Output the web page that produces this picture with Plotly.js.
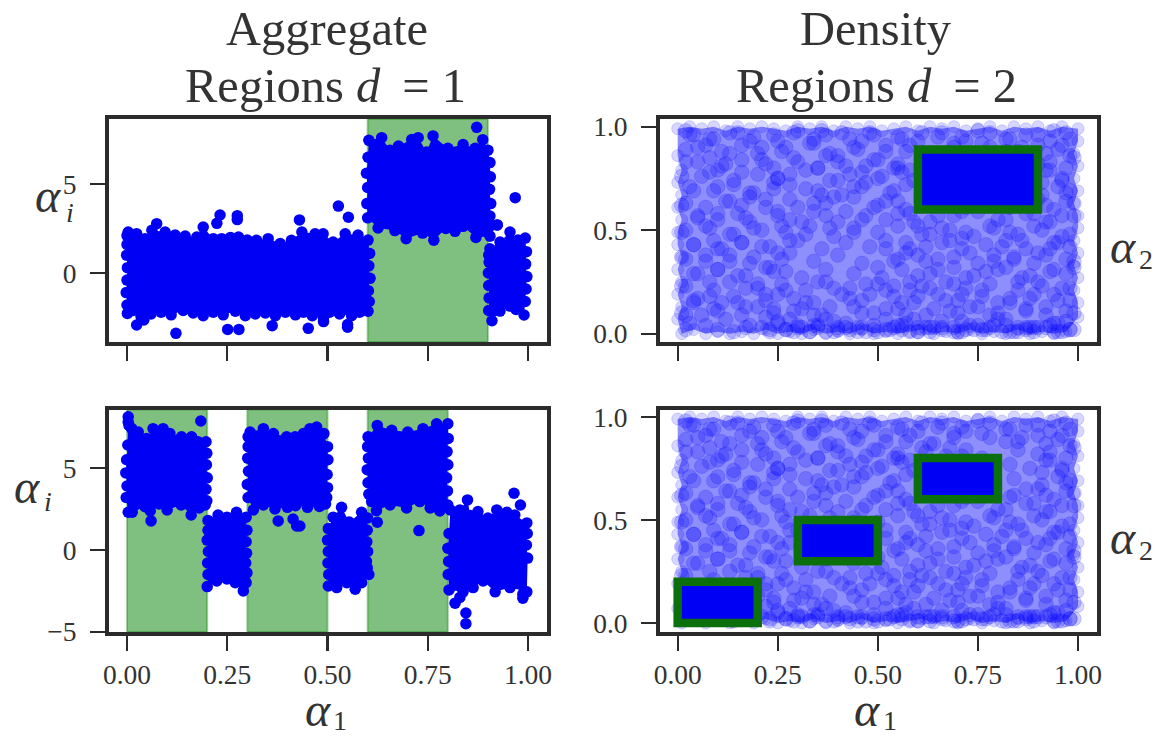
<!DOCTYPE html>
<html><head><meta charset="utf-8">
<script src="https://cdn.plot.ly/plotly-3.0.1.min.js"></script>
<style>html,body{margin:0;padding:0;background:#fff}</style></head>
<body><div id="chart" style="width:1175px;height:737px"></div>
<script>
const xTicks=[0,0.25,0.5,0.75,1], xTickText=['0.00','0.25','0.50','0.75','1.00'];
const dTicks=[0,0.5,1], dTickText=['0.0','0.5','1.0'];
const topRegions=[[0.6,0.9]];
const bottomRegions=[[0,0.2],[0.3,0.5],[0.6,0.8]];
const densTopRects=[[0.6,0.9,0.6,0.89]];
const densBottomRects=[[0,0.2,0,0.2],[0.3,0.5,0.3,0.5],[0.6,0.8,0.6,0.8]];

const topBlobX=[0,.003,.024,.045,.062,.095,.12,.145,.174,.19,.215,.236,.258,.278,.3,.323,.352,.382,.41,.436,.469,.489,.514,.544,.576,.601,.605,.603,.606,.602,.604,.601,.58,.56,.53,.505,.49,.462,.44,.42,.395,.37,.345,.32,.295,.27,.24,.215,.19,.165,.14,.11,.085,.06,.035,.015,0,-.002,0,.001,-.001,0,null,
.603,.635,.656,.677,.71,.726,.747,.763,.8,.838,.868,.887,.9,.905,.906,.904,.907,.905,.923,.905,.87,.838,.818,.795,.765,.737,.696,.668,.626,.6,.598,.6,.597,.601,null,
.905,.93,.955,.975,.993,.996,.994,.997,.995,.993,.99,.97,.955,.93,.91,.902,.903,.902,.901,.903,.902];
const topBlobY=[2.1,2.3,2.21,1.93,2.4,2.3,2.13,2.08,2.02,2.58,1.93,1.93,2.0,2.02,1.85,1.84,1.93,1.65,1.84,2.3,2.2,2.2,1.74,2.2,2.13,1.85,1.1,.4,-.3,-1,-1.6,-2.15,-2.2,-2.4,-2.3,-2.2,-2.5,-2.4,-2.2,-2.35,-2.2,-2.4,-2.25,-2.3,-2.4,-2.15,-2.35,-2.2,-2.4,-2.25,-2.1,-2.35,-2.2,-2.3,-2.45,-2.1,-1.8,-1.1,-.4,.3,1,1.6,null,
7.45,7.6,6.9,7.13,7.5,7.6,6.8,7.7,7,7.22,7,7.49,6.9,6.2,5.4,4.7,3.9,3.2,2.7,2.07,2,2.62,2.34,2.5,1.84,2.24,1.93,2.38,2.53,3.1,3.9,4.8,5.6,6.5,null,
1.36,1.74,2.3,1.85,1.96,1.2,.5,-.2,-.9,-1.6,-2.36,-2.05,-1.86,-2.14,-2.68,-2.1,-1.4,-.7,0,.6,1];
const topOutX=[.074,.232,.224,.275,.275,.43,.527,.552,.122,.251,.279,.362,.452,.55,.55,.49,.024,.042,.001,.872,.968,.923];
const topOutY=[2.77,3.26,2.79,3.22,3,2.98,3.76,3.13,-3.39,-3.17,-3.17,-2.96,-3.11,-3.05,-2.9,-2.73,-2.92,-2.64,-2.27,8.18,4.23,2.7];

const bottomBlobX=[.003,.012,.028,.049,.065,.09,.107,.136,.161,.177,.197,.199,.198,.2,.197,.199,.195,.18,.16,.135,.1,.08,.058,.045,.013,.003,-.002,0,-.003,-.001,.002,null,
.202,.227,.249,.273,.297,.299,.297,.298,.296,.299,.297,.29,.27,.249,.224,.2,.202,.201,.203,.2,.202,null,
.302,.307,.34,.365,.398,.419,.44,.456,.473,.491,.5,.501,.499,.5,.498,.495,.48,.45,.42,.4,.369,.34,.315,.302,.3,.303,.301,.302,null,
.514,.535,.554,.585,.6,.599,.598,.6,.597,.599,.603,.585,.569,.548,.523,.502,.503,.501,.502,.5,.502,null,
.601,.624,.66,.7,.738,.772,.8,.801,.798,.8,.797,.799,.8,.78,.756,.73,.697,.656,.622,.61,.603,.601,.599,.602,.6,null,
.806,.83,.849,.856,.875,.9,.922,.947,.967,.997,.998,.996,.999,.997,.955,.918,.888,.863,.838,.803,.801,.802,.8,.803];
const bottomBlobY=[7.8,7.4,7.2,6.8,7.4,7.4,7.1,6.9,6.9,6.6,6.6,5.9,5.2,4.4,3.7,3,2.74,2.56,2.13,2.74,2.44,2.8,2.38,2.64,2.3,2.3,3.2,3.9,4.7,5.5,6.4,null,
1.8,2.13,2,2.3,2,1.2,.5,-.2,-.8,-1.4,-2,-2.5,-2,-1.77,-1.9,-2.24,-1.5,-.8,-.1,.6,1.2,null,
6.9,7.2,7.4,7.1,6.9,6.9,7.1,7.4,7.5,7.1,6.3,5.5,4.6,3.8,3.2,2.8,2.65,2.6,2.7,2.6,2.5,2.74,2.44,3.2,4,4.8,5.6,6.3,null,
2,2.6,1.7,2.3,1.95,1.2,.5,-.1,-.7,-1.1,-1.5,-2,-2.4,-2,-2.3,-2.2,-1.5,-.8,-.1,.6,1.3,null,
6.9,7.6,7.3,7.2,7.4,7.7,7.7,6.8,6,5.2,4.4,3.6,2.74,2.38,2.56,2.95,2.56,2.74,2.4,2.95,3.4,4.1,4.9,5.6,6.3,null,
2.44,2.44,3.05,2.1,2.34,1.95,2.44,2.3,2.13,1.65,1,.3,-.5,-2.56,-2.3,-2.56,-1.9,-2.3,-2.56,-2.44,-1.5,-.7,.1,1];
const bottomOutX=[.003,.005,.184,.06,.377,.414,.423,.431,.624,.728,.965,.981,.987,.818,.83,.845,.845,.987];
const bottomOutY=[8.13,7.6,7.87,1.77,1.77,1.89,1.46,1.46,1.69,1.18,3.46,2.74,-2.95,-3.25,-2.9,-3.85,-4.5,-2.7];

const edgeX=[0,.03,.06,.09,.12,.15,.18,.21,.24,.27,.3,.33,.36,.39,.42,.45,.48,.51,.54,.57,.6,.63,.66,.69,.72,.75,.78,.81,.84,.87,.9,.93,.96,1,1,.99,1,.99,1,.99,1,1,.99,1,.99,1,.99,1,1,.97,.94,.91,.88,.85,.82,.79,.76,.73,.7,.67,.64,.61,.58,.55,.52,.49,.46,.43,.4,.37,.34,.31,.28,.25,.22,.19,.16,.13,.1,.07,.04,.01,0,.01,0,.01,0,.01,0,0,.01,0,.01,0,.01,0];
const edgeY=[.99,1,.99,1,.98,1,.99,1,.99,.98,1,.99,1,.98,1,.99,1,.98,.99,1,.98,1,.99,1,.98,.99,1,.98,1,.99,1,.98,1,.99,.93,.87,.81,.75,.69,.63,.57,.51,.45,.39,.33,.27,.21,.15,.08,.01,0,.01,0,.02,0,.01,0,.02,0,.01,0,.02,.01,0,.01,0,.02,0,.01,0,.02,0,.01,0,.02,0,.01,0,.01,0,.02,0,.07,.13,.19,.25,.31,.37,.43,.49,.55,.61,.67,.73,.79,.86];

const densTopX=[.03,.02,.08,.13,.19,.25,.29,.36,.37,.43,.48,.55,.6,.66,.71,.75,.82,.87,.93,.97,
.05,.11,.16,.2,.27,.34,.4,.45,.52,.57,.63,.69,.78,.85,.9,.95,
.02,.08,.12,.21,.24,.3,.37,.42,.49,.54,.55,.61,.67,.72,.76,.93,.98,
.06,.1,.16,.25,.28,.35,.4,.46,.51,.58,.64,.7,.92,.96,
.03,.09,.14,.19,.24,.32,.36,.44,.47,.54,.61,.66,.74,.91,.97,
.01,.12,.18,.22,.28,.34,.39,.49,.52,.57,.62,.69,.72,.78,.84,.9,.94,.99,
.05,.1,.15,.17,.25,.31,.37,.42,.46,.55,.59,.65,.71,.8,.87,.92,.96,
.02,.07,.13,.19,.27,.33,.39,.44,.5,.6,.63,.68,.74,.79,.83,.89,.98,
.04,.09,.1,.16,.21,.3,.36,.42,.48,.52,.58,.66,.71,.81,.86,.93,.95,
.01,.07,.13,.18,.26,.28,.34,.4,.46,.55,.57,.62,.69,.75,.79,.84,.9,.99,
.04,.1,.15,.22,.24,.31,.37,.44,.5,.6,.65,.72,.77,.82,.88,.94,.97,
.02,.08,.17,.2,.27,.35,.39,.47,.52,.54,.58,.63,.69,.76,.85,.91,.98,
.05,.11,.14,.22,.25,.32,.43,.48,.56,.6,.67,.71,.8,.83,.89,.95,
.01,.09,.16,.2,.29,.34,.38,.46,.52,.57,.64,.7,.75,.78,.87,.92,.99,
.04,.03,.12,.18,.25,.31,.37,.42,.49,.59,.6,.66,.73,.8,.85,.94,.97,
.02,.07,.14,.21,.27,.35,.39,.45,.52,.56,.63,.69,.76,.82,.89,.92,.98,
.06,.1,.17,.23,.3,.33,.4,.47,.54,.6,.66,.71,.78,.84,.87,.95];
const densTopY=[.96,.98,.94,.97,.95,.93,.97,.98,.96,.94,.97,.95,.93,.97,.95,.98,.94,.96,.93,.97,
.9,.88,.91,.87,.9,.92,.86,.89,.91,.88,.87,.92,.9,.88,.91,.89,
.83,.85,.82,.84,.8,.83,.86,.81,.84,.8,.82,.85,.81,.84,.8,.83,.86,
.76,.79,.78,.75,.77,.8,.74,.78,.76,.79,.74,.77,.79,.75,
.71,.69,.72,.68,.73,.7,.67,.71,.73,.69,.72,.68,.7,.73,.68,
.62,.64,.66,.61,.65,.63,.66,.61,.64,.6,.63,.66,.61,.64,.62,.65,.6,.63,
.57,.55,.58,.56,.59,.54,.57,.59,.55,.58,.54,.57,.59,.55,.58,.54,.57,
.5,.52,.48,.51,.49,.52,.47,.51,.49,.52,.48,.5,.47,.51,.49,.52,.48,
.43,.45,.41,.44,.42,.45,.41,.44,.42,.45,.41,.44,.46,.42,.45,.41,.44,
.37,.35,.38,.34,.36,.39,.35,.38,.34,.36,.39,.35,.37,.34,.38,.36,.39,.35,
.29,.31,.28,.32,.3,.27,.31,.29,.32,.28,.31,.27,.3,.32,.28,.31,.29,
.23,.25,.22,.24,.21,.25,.22,.24,.21,.23,.25,.22,.24,.21,.25,.23,.22,
.17,.15,.18,.16,.19,.15,.17,.19,.15,.18,.16,.19,.15,.17,.19,.16,
.1,.12,.09,.13,.11,.09,.13,.1,.12,.09,.12,.1,.13,.09,.11,.13,.1,
.15,.05,.07,.04,.06,.03,.07,.05,.04,.07,.03,.06,.04,.07,.03,.05,.06,
.02,.04,.01,.03,.02,.04,.01,.03,.02,.04,.01,.03,.02,.04,.01,.03,.02,
.09,.02,.03,.01,.03,.01,.02,.01,.03,.01,.02,.01,.03,.01,.02,.01];

const densBotX=[.04,.09,.15,.18,.24,.3,.34,.41,.46,.49,.56,.61,.65,.72,.78,.83,.9,.94,.98,
.02,.07,.13,.21,.26,.33,.38,.44,.52,.58,.64,.69,.76,.82,.86,.92,.96,
.05,.11,.16,.22,.29,.35,.4,.47,.5,.55,.62,.68,.71,.85,.9,.97,.99,
.01,.08,.14,.2,.25,.32,.38,.43,.5,.56,.59,.83,.88,.93,.96,
.04,.1,.18,.24,.28,.35,.41,.46,.53,.57,.84,.91,.95,.98,
.02,.07,.13,.16,.22,.3,.37,.44,.5,.55,.83,.87,.92,.97,
.05,.1,.18,.25,.28,.34,.4,.47,.52,.58,.63,.69,.75,.82,.89,.93,.99,
.01,.08,.14,.21,.26,.32,.38,.44,.55,.61,.66,.72,.78,.85,.91,.96,
.04,.11,.16,.23,.28,.52,.57,.62,.68,.71,.77,.82,.87,.94,.98,
.02,.07,.13,.19,.25,.54,.6,.65,.73,.79,.84,.89,.92,.97,
.05,.1,.17,.23,.27,.51,.56,.63,.69,.74,.8,.86,.93,.99,
.01,.09,.13,.2,.26,.32,.37,.43,.5,.58,.61,.67,.72,.78,.85,.9,.96,
.04,.08,.15,.22,.29,.34,.41,.46,.54,.59,.65,.7,.76,.83,.88,.94,.98,
.02,.1,.17,.24,.31,.36,.44,.49,.55,.62,.68,.73,.8,.87,.92,.97,
.25,.28,.34,.39,.46,.52,.57,.63,.71,.75,.82,.88,.95,
.23,.3,.37,.42,.49,.55,.6,.66,.72,.79,.85,.9,.93,.99,
.24,.27,.33,.4,.45,.53,.58,.64,.7,.77,.83,.87,.96,
.22,.29,.35,.43,.5,.56,.62,.69,.74,.81,.89,.94,.98];
const densBotY=[.96,.94,.97,.93,.96,.98,.94,.97,.93,.96,.94,.97,.95,.93,.97,.94,.96,.98,.94,
.89,.91,.87,.9,.88,.92,.87,.9,.88,.91,.87,.9,.92,.88,.9,.87,.91,
.83,.81,.84,.82,.85,.8,.83,.81,.84,.8,.83,.85,.81,.84,.82,.8,.85,
.76,.78,.74,.77,.75,.79,.74,.77,.75,.78,.74,.77,.75,.79,.74,
.69,.71,.68,.7,.72,.69,.67,.71,.68,.72,.7,.67,.71,.69,
.63,.61,.64,.62,.65,.61,.63,.66,.62,.64,.61,.65,.62,.64,
.56,.58,.54,.57,.55,.59,.54,.57,.55,.58,.54,.57,.59,.55,.58,.54,.57,
.49,.51,.48,.5,.52,.48,.51,.49,.52,.48,.51,.49,.52,.48,.5,.47,
.43,.41,.44,.42,.45,.41,.44,.42,.45,.41,.43,.45,.41,.44,.42,
.36,.38,.35,.37,.39,.35,.38,.36,.39,.35,.37,.34,.38,.36,
.29,.31,.28,.32,.3,.27,.31,.29,.32,.28,.31,.27,.3,.32,
.23,.21,.25,.22,.24,.21,.25,.22,.24,.21,.23,.25,.22,.24,.21,.25,.22,
.16,.18,.15,.19,.17,.15,.19,.16,.18,.15,.19,.16,.18,.15,.17,.19,.16,
.09,.11,.13,.1,.12,.09,.13,.1,.12,.09,.11,.13,.1,.12,.09,.11,
.05,.07,.04,.06,.03,.07,.05,.03,.06,.04,.07,.03,.05,
.02,.04,.01,.03,.02,.04,.01,.03,.02,.04,.01,.03,.04,.02,
.12,.02,.01,.03,.01,.02,.01,.03,.01,.02,.01,.03,.01,
.08,.01,.03,.02,.01,.02,.03,.01,.02,.01,.03,.01,.02];

const W=1175,H=737;
const BLUE='#0000f5', INK='#333333', FONT='"Liberation Serif", serif', FRAME='#2b2b2b';
const px=(a,b)=>[a/W,b/W], py=(a,b)=>[1-b/H,1-a/H];
const solid={color:BLUE,size:11.5,line:{width:0}};

function axis(anchor,domain,range,vals,text,labels,standoff){return {anchor:anchor,domain:domain,range:range,tickmode:'array',tickvals:vals,ticktext:text,showticklabels:labels,
 ticks:'outside',ticklen:15,tickwidth:2.2,tickcolor:FRAME,showline:true,mirror:true,linewidth:4,linecolor:FRAME,showgrid:false,zeroline:false,ticklabelstandoff:standoff||0,
 tickfont:{family:FONT,size:27.5,color:INK}};}
function bands(list,xa,ya){return list.map(r=>({type:'rect',xref:xa,yref:ya+' domain',x0:r[0],x1:r[1],y0:0,y1:1,layer:'below',
 fillcolor:'rgba(0,128,0,0.5)',line:{color:'rgba(0,128,0,0.35)',width:2}}));}
function rects(list,xa,ya){return list.map(r=>({type:'rect',xref:xa,yref:ya,x0:r[0],x1:r[1],y0:r[2],y1:r[3],layer:'above',
 fillcolor:'#0000f5',line:{color:'#0b700b',width:8.5}}));}
function note(text,x,y,size,style){return {text:style?'<i>'+text+'</i>':text,xref:'paper',yref:'paper',x:x/W,y:1-y/H,xanchor:'center',yanchor:'middle',showarrow:false,font:{family:FONT,size:size,color:INK}};}

const dotStyle={size:14.5,color:'rgba(0,0,255,0.2)',line:{width:1,color:'rgba(0,0,255,0.16)'}};
const dens=(xa,ya)=>[
 {type:'scatter',mode:'markers',x:edgeX,y:edgeY,xaxis:xa,yaxis:ya,fill:'toself',fillcolor:'rgba(30,30,250,0.5)',hoverinfo:'skip',
  marker:{size:12,color:'rgba(0,0,255,0.16)',line:{width:1,color:'rgba(0,0,255,0.16)'}}},
 {type:'scatter',mode:'markers',x:densTopX,y:densTopY,xaxis:xa,yaxis:ya,marker:dotStyle},
 {type:'scatter',mode:'markers',x:densBotX,y:densBotY,xaxis:xa,yaxis:ya,marker:dotStyle}];

const data=[
 {type:'scatter',mode:'markers',x:topBlobX,y:topBlobY,xaxis:'x',yaxis:'y',fill:'toself',fillcolor:BLUE,marker:solid},
 {type:'scatter',mode:'markers',x:topOutX,y:topOutY,xaxis:'x',yaxis:'y',marker:solid},
 {type:'scatter',mode:'markers',x:bottomBlobX,y:bottomBlobY,xaxis:'x3',yaxis:'y3',fill:'toself',fillcolor:BLUE,marker:solid},
 {type:'scatter',mode:'markers',x:bottomOutX,y:bottomOutY,xaxis:'x3',yaxis:'y3',marker:solid},
 ...dens('x2','y2'),
 ...dens('x4','y4')
];

const layout={width:W,height:H,margin:{l:0,r:0,t:0,b:0},paper_bgcolor:'#fff',plot_bgcolor:'#fff',showlegend:false,
 xaxis:axis('y',px(109,546.5),[-0.0449,1.046],xTicks,xTickText,false),
 yaxis:axis('x',py(119,342),[-3.876,8.65],[0,5],['0','5'],true,8),
 xaxis2:axis('y2',px(660,1097),[-0.0442,1.0475],xTicks,xTickText,false),
 yaxis2:axis('x2',py(119,342),[-0.04,1.037],dTicks,dTickText,true,8),
 xaxis3:axis('y3',px(109,546.5),[-0.0449,1.046],xTicks,xTickText,true),
 yaxis3:axis('x3',py(409.5,632),[-5.01,8.57],[-5,0,5],['\u22125','0','5'],true,8),
 xaxis4:axis('y4',px(660,1097),[-0.0442,1.0475],xTicks,xTickText,true),
 yaxis4:axis('x4',py(409.5,632),[-0.044,1.036],dTicks,dTickText,true,8),
 shapes:[...bands(topRegions,'x','y'),...bands(bottomRegions,'x3','y3'),...rects(densTopRects,'x2','y2'),...rects(densBottomRects,'x4','y4')],
 annotations:[
  note('Aggregate',327,28,48.5),
  note('Regions <i>d</i>\u2009\u00a0=\u00a01',325,85,48.5),
  note('Density',876,28,48.5),
  note('Regions <i>d</i>\u2009\u00a0=\u00a02',876,85,48.5),
  note('α',48,195,48,true),note('i',70,212,28,true),
  note('α',27,486,48,true),note('i',48,501,28,true),
  note('α',318,709,48,true),note('1',340,720,28),
  note('α',867,709,48,true),note('1',890,720,28),
  note('α',1123,247,48,true),note('2',1146,260,28),
  note('α',1123,537,48,true),note('2',1146,550,28)
 ]};
Plotly.newPlot('chart',data,layout,{displayModeBar:false,staticPlot:true});
</script></body></html>
